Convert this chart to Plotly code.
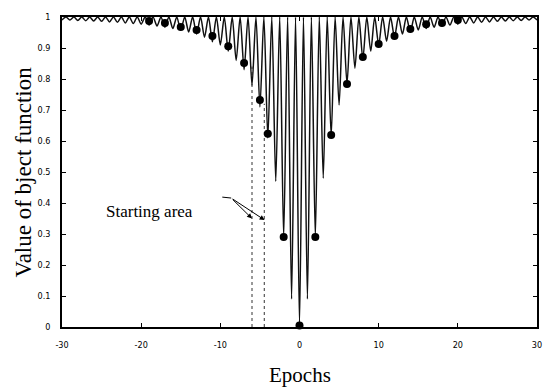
import plotly.graph_objects as go

# ---- data ----
min_x = list(range(-30, 31))
min_y = [0.990, 0.990, 0.989, 0.988, 0.987, 0.986, 0.984, 0.983, 0.981, 0.979,
         0.977, 0.974, 0.971, 0.967, 0.963, 0.958, 0.952, 0.945, 0.935, 0.920,
         0.910, 0.890, 0.860, 0.830, 0.780, 0.710, 0.610, 0.470, 0.290, 0.090,
         0.010,
         0.090, 0.290, 0.480, 0.615, 0.716, 0.785, 0.835, 0.865, 0.890, 0.910,
         0.922, 0.935, 0.945, 0.952, 0.958, 0.963, 0.967, 0.971, 0.974, 0.977,
         0.979, 0.981, 0.983, 0.984, 0.986, 0.987, 0.988, 0.989, 0.990, 0.990]
max_y = [1.0] * 60

dot_x = [-19, -17, -15, -13, -11, -9, -7, -5, -4, -2, 0, 2, 4, 6, 8, 10, 12, 14, 16, 18, 20]
dot_y = [0.987, 0.981, 0.968, 0.958, 0.939, 0.906, 0.852, 0.732, 0.623, 0.290, 0.005,
         0.290, 0.619, 0.784, 0.871, 0.913, 0.939, 0.961, 0.977, 0.981, 0.990]

start_lines = [-6.0, -4.45]
start_tops = [0.84, 0.72]

x_ticks = [-30, -20, -10, 0, 10, 20, 30]
x_labels = ["-30", "-20", "-10", "0", "10", "20", "30"]
y_ticks = [0, 0.1, 0.2, 0.3, 0.4, 0.5, 0.6, 0.7, 0.8, 0.9, 1]
y_labels = ["0", "0.1", "0.2", "0.3", "0.4", "0.5", "0.6", "0.7", "0.8", "0.9", "1"]

# interleave minima (integers) and maxima (half-integers)
curve_x, curve_y = [], []
for i in range(len(min_x)):
    curve_x.append(min_x[i]); curve_y.append(min_y[i])
    if i < len(max_y):
        curve_x.append((min_x[i] + min_x[i + 1]) / 2); curve_y.append(max_y[i])

fig = go.Figure()
for xv, top in zip(start_lines, start_tops):
    fig.add_trace(go.Scatter(x=[xv, xv], y=[0, top], mode="lines",
                             line=dict(color="#333", width=1, dash="dot"),
                             showlegend=False, hoverinfo="skip"))
fig.add_trace(go.Scatter(x=curve_x, y=curve_y, mode="lines",
                         line=dict(color="#111", width=1.5, shape="spline", smoothing=0.8),
                         showlegend=False))
fig.add_trace(go.Scatter(x=dot_x, y=dot_y, mode="markers",
                         marker=dict(color="black", size=8),
                         cliponaxis=False, showlegend=False))

# arrow from label to starting area
fig.add_shape(type="line", x0=-9.75, y0=0.419, x1=-8.63, y1=0.416,
              line=dict(color="black", width=1))
fig.add_annotation(x=-4.41, y=0.345, ax=-8.63, ay=0.416, xref="x", yref="y",
                   axref="x", ayref="y", showarrow=True, arrowhead=2, arrowsize=1,
                   arrowwidth=1, arrowcolor="black", text="")
fig.add_annotation(x=-6.0, y=0.35, ax=-8.63, ay=0.416, xref="x", yref="y",
                   axref="x", ayref="y", showarrow=True, arrowhead=2, arrowsize=1,
                   arrowwidth=1, arrowcolor="black", text="")
fig.add_annotation(x=-18.9, y=0.374, xref="x", yref="y", text="Starting area",
                   showarrow=False, font=dict(family="Liberation Serif", size=17, color="black"))

# axis titles
fig.add_annotation(x=(23 - 62) / 480, y=0.5, xref="paper", yref="paper",
                   text="Value of bject function", textangle=-90, showarrow=False,
                   xanchor="center", yanchor="middle",
                   font=dict(family="Liberation Serif", size=23, color="black"))
fig.add_annotation(x=0.5, y=-(375 - 327) / 310, xref="paper", yref="paper",
                   text="Epochs", showarrow=False, xanchor="center", yanchor="middle",
                   font=dict(family="Liberation Serif", size=21, color="black"))

axis_common = dict(showline=True, linecolor="black", linewidth=1.5, mirror="allticks",
                   ticks="inside", ticklen=4, tickcolor="black", showgrid=False,
                   zeroline=False,
                   tickfont=dict(family="DejaVu Sans Condensed, DejaVu Sans", size=9, color="black"))

fig.update_xaxes(range=[-30, 30], tickvals=x_ticks, ticktext=x_labels,
                 ticklabelstandoff=8, **axis_common)
fig.update_yaxes(range=[0, 1], tickvals=y_ticks, ticktext=y_labels,
                 ticklabelstandoff=8, **axis_common)

fig.update_layout(width=554, height=388, margin=dict(l=62, r=12, t=17, b=61),
                  paper_bgcolor="white", plot_bgcolor="white")
fig.write_html("out.html")
